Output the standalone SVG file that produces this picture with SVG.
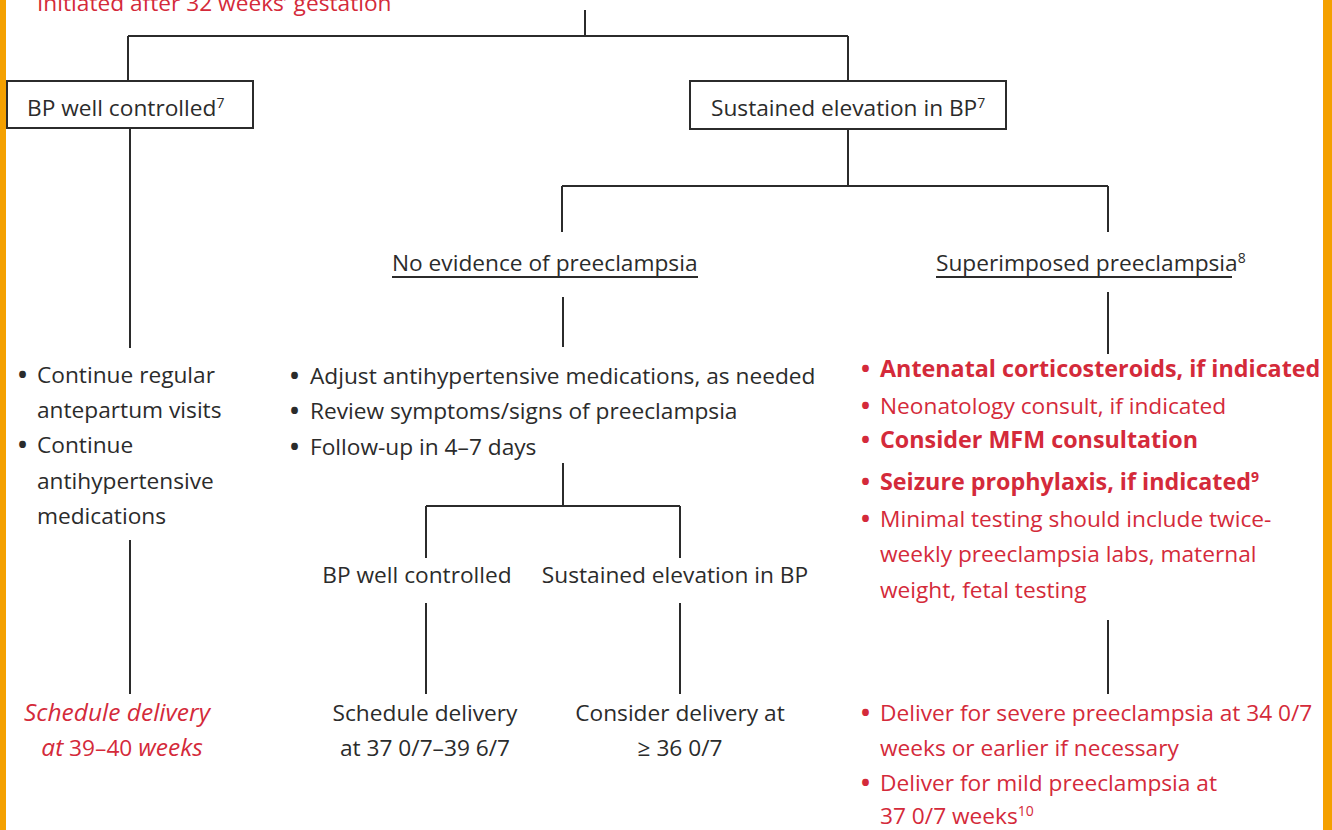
<svg xmlns="http://www.w3.org/2000/svg" width="1332" height="830" viewBox="0 0 1332 830">
<style>
text{font-family:"Open Sans","Noto Sans","Liberation Sans",sans-serif;font-size:22.7px;fill:#2b2b2b}
.red{fill:#d42a3a}
.b{font-weight:bold;font-size:23.3px}
.it{font-style:italic;font-size:24.5px}
.sup{font-size:14px}
.bu{font-weight:bold;font-size:24px}
.c{text-anchor:middle}
.ln{stroke:#2b2b2b;stroke-width:2;fill:none}
.box{stroke:#2b2b2b;stroke-width:2;fill:#fff}
</style>
<rect x="0" y="0" width="1332" height="830" fill="#fff"/>
<rect x="0" y="0" width="6" height="830" fill="#f4a000"/>
<rect x="1323" y="0" width="9" height="830" fill="#f4a000"/>

<g id="top">
<text class="red" x="37" y="11" font-size="23.5">Initiated after 32 weeks’ gestation</text>
</g>

<g id="connectors">
<path class="ln" d="M585 10V36M128 36H848M128 36V81M848 36V81"/>
<path class="ln" d="M130 128V348M130 540V694"/>
<path class="ln" d="M848 129V186M562 186H1108M562 186V232M1108 186V232"/>
<path class="ln" d="M563 297V347M1108 292V354M1108 620V694"/>
<path class="ln" d="M563 463V506M426 506H680M426 506V558M680 506V558"/>
<path class="ln" d="M426 603V694M680 603V694"/>
</g>

<g id="bp-controlled">
<rect class="box" x="7" y="81" width="246" height="47"/>
<text x="27" y="116">BP well controlled<tspan class="sup" dy="-8">7</tspan></text>
</g>

<g id="bp-elevated">
<rect class="box" x="690" y="81" width="316" height="48"/>
<text x="711" y="116">Sustained elevation in BP<tspan class="sup" dy="-8">7</tspan></text>
</g>

<g id="no-evidence">
<text x="392" y="271">No evidence of preeclampsia</text>
<line class="ln" x1="392" y1="277" x2="698" y2="277" stroke-width="1.5"/>
</g>

<g id="superimposed">
<text x="936" y="271">Superimposed preeclampsia<tspan class="sup" dy="-8">8</tspan></text>
<line class="ln" x1="936" y1="277" x2="1232" y2="277" stroke-width="1.5"/>
</g>

<g id="left-actions">
<text x="18" y="383"><tspan class="bu">•</tspan><tspan x="37">Continue regular</tspan></text>
<text x="37" y="418">antepartum visits</text>
<text x="18" y="453"><tspan class="bu">•</tspan><tspan x="37">Continue</tspan></text>
<text x="37" y="489">antihypertensive</text>
<text x="37" y="524">medications</text>
</g>

<g id="left-delivery">
<text class="red it c" x="117" y="721">Schedule delivery</text>
<text class="red c" x="122" y="756"><tspan class="it">at</tspan> 39–40 <tspan class="it">weeks</tspan></text>
</g>

<g id="mid-actions">
<text x="290" y="384"><tspan class="bu">•</tspan><tspan x="310">Adjust antihypertensive medications, as needed</tspan></text>
<text x="290" y="419"><tspan class="bu">•</tspan><tspan x="310">Review symptoms/signs of preeclampsia</tspan></text>
<text x="290" y="455"><tspan class="bu">•</tspan><tspan x="310">Follow-up in 4–7 days</tspan></text>
</g>

<g id="mid-controlled">
<text class="c" x="417" y="583">BP well controlled</text>
</g>
<g id="mid-elevated">
<text class="c" x="675" y="583">Sustained elevation in BP</text>
</g>

<g id="mid-schedule">
<text class="c" x="425" y="721">Schedule delivery</text>
<text class="c" x="425" y="756">at 37 0/7–39 6/7</text>
</g>
<g id="mid-consider">
<text class="c" x="680" y="721">Consider delivery at</text>
<text class="c" x="680" y="756">≥ 36 0/7</text>
</g>

<g id="right-actions">
<text class="red" x="861" y="377"><tspan class="bu">•</tspan><tspan class="b" x="880">Antenatal corticosteroids, if indicated</tspan></text>
<text class="red" x="861" y="414"><tspan class="bu">•</tspan><tspan x="880">Neonatology consult, if indicated</tspan></text>
<text class="red" x="861" y="448"><tspan class="bu">•</tspan><tspan class="b" x="880">Consider MFM consultation</tspan></text>
<text class="red" x="861" y="490"><tspan class="bu">•</tspan><tspan class="b" x="880">Seizure prophylaxis, if indicated</tspan><tspan class="sup b" dy="-8" font-size="15">9</tspan></text>
<text class="red" x="861" y="527"><tspan class="bu">•</tspan><tspan x="880">Minimal testing should include twice-</tspan></text>
<text class="red" x="880" y="562">weekly preeclampsia labs, maternal</text>
<text class="red" x="880" y="598">weight, fetal testing</text>
</g>

<g id="right-delivery">
<text class="red" x="861" y="721"><tspan class="bu">•</tspan><tspan x="880">Deliver for severe preeclampsia at 34 0/7</tspan></text>
<text class="red" x="880" y="756">weeks or earlier if necessary</text>
<text class="red" x="861" y="791"><tspan class="bu">•</tspan><tspan x="880">Deliver for mild preeclampsia at</tspan></text>
<text class="red" x="880" y="824">37 0/7 weeks<tspan class="sup" dy="-8">10</tspan></text>
</g>
</svg>
